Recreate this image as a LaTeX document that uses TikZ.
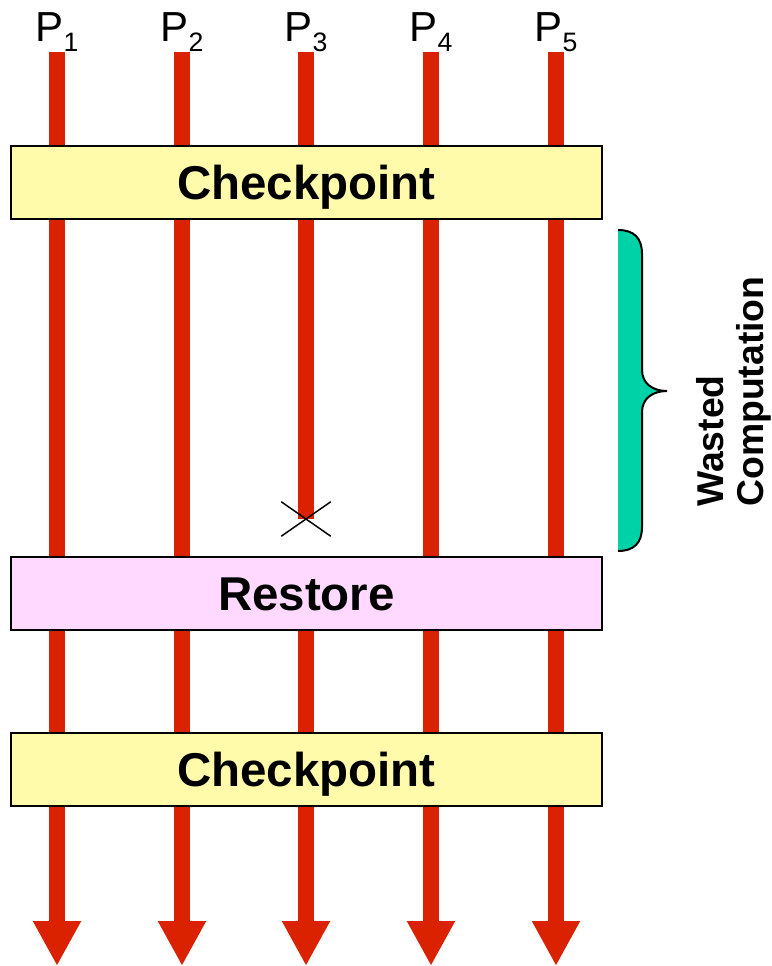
\documentclass[tikz,border=0pt]{standalone}
\usepackage{fontspec}
\setmainfont{Liberation Sans}
\usetikzlibrary{arrows.meta,shapes.misc}
\definecolor{proc}{HTML}{DA2200}
\definecolor{ckpt}{HTML}{FFFBAA}
\definecolor{rest}{HTML}{FFD9FF}
\definecolor{waste}{HTML}{00D2A8}
\tikzset{
  line/.style={line width=12pt, color=proc},
  flow/.style={line width=12pt, color=proc, -{Triangle[width=33.75pt,length=33.75pt]}},
  bar/.style={draw=black, line width=1.5pt, minimum width=443.25pt, minimum height=54.75pt, inner sep=0pt,
    text height=25.5pt, text depth=0pt, font=\fontsize{35.6}{36}\selectfont\bfseries},
  plab/.style={anchor=base, inner sep=0pt, font=\fontsize{31.5}{32}\selectfont},
  fail/.style={cross out, draw=black, line width=1.1pt, minimum width=36pt, minimum height=24.75pt, inner sep=0pt},
  side/.style={rotate=90, anchor=north west, inner sep=0pt, align=left, font=\fontsize{28}{30}\selectfont\bfseries},
}
\newcommand{\pname}[1]{P{\fontsize{20}{20}\selectfont\raisebox{-7.5pt}{#1}}}

\begin{document}
\begin{tikzpicture}[x=0.75pt, y=-0.75pt]
  \useasboundingbox (0,0) rectangle (771,966);
  \node[plab] (p1) at (57,42)  {\pname{1}};
  \node[plab] (p2) at (182,42) {\pname{2}};
  \node[plab] (p3) at (306,42) {\pname{3}};
  \node[plab] (p4) at (431,42) {\pname{4}};
  \node[plab] (p5) at (556,42) {\pname{5}};
  \coordinate (t1) at (57,52);
  \coordinate (t2) at (182,52);
  \coordinate (t3) at (306,52);
  \coordinate (t4) at (431,52);
  \coordinate (t5) at (556,52);
  \coordinate (b1) at (57,966);
  \coordinate (b2) at (182,966);
  \coordinate (b3) at (306,966);
  \coordinate (b4) at (431,966);
  \coordinate (b5) at (556,966);
  \coordinate (crash) at (306,519);
  \coordinate (s3) at (306,593);
  \draw[flow] (t1) -- (b1);
  \draw[flow] (t2) -- (b2);
  \draw[line] (t3) -- (crash);
  \draw[flow] (s3) -- (b3);
  \draw[flow] (t4) -- (b4);
  \draw[flow] (t5) -- (b5);
  \node[fail] (x3) at (crash) {};
  \node[bar, fill=ckpt] (ck1) at (306.5,182.5) {Checkpoint};
  \node[bar, fill=rest] (rs)  at (306.5,593)   {Restore};
  \node[bar, fill=ckpt] (ck2) at (306.5,769)   {Checkpoint};
  \fill[waste] (618,230) .. controls (634,230) and (642,238) .. (642,254) -- (642,370)
    .. controls (642,383) and (652,391) .. (667,391) .. controls (652,391) and (642,399) .. (642,412)
    -- (642,527) .. controls (642,543) and (634,551) .. (618,551) -- cycle;
  \draw[line width=1.5pt] (618,230) .. controls (634,230) and (642,238) .. (642,254) -- (642,370)
    .. controls (642,383) and (652,391) .. (667,391) .. controls (652,391) and (642,399) .. (642,412)
    -- (642,527) .. controls (642,543) and (634,551) .. (618,551);
  \node[side] (wc) at (696,507) {Wasted\\Computation};
\end{tikzpicture}
\end{document}
